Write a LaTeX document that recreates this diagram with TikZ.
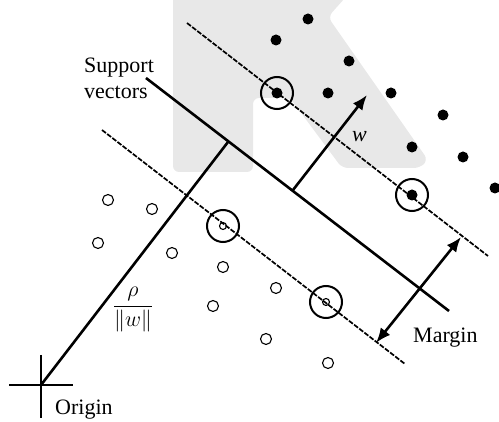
\documentclass[tikz,border=0pt]{standalone}
\usepackage{fix-cm}
\usepackage{fontspec}
\setmainfont{Liberation Serif}
\usetikzlibrary{arrows.meta}
\begin{document}
\begin{tikzpicture}[x=1pt,y=-1pt,font=\fontsize{22}{26}\selectfont,
	plane/.style={line width=2.6pt},
	edge/.style={line width=1.7pt,dash pattern=on 5pt off 1.5pt},
	posdot/.style={circle,fill=black,inner sep=0pt,minimum size=11pt},
	negdot/.style={circle,draw,line width=1.1pt,inner sep=0pt,minimum size=11pt},
	negsv/.style={circle,draw,line width=1.1pt,inner sep=0pt,minimum size=7pt},
	svring/.style={circle,draw,line width=2pt,inner sep=0pt,minimum size=32pt},
	tip/.style={line width=2.6pt,-{Latex[length=15pt,width=12pt]}},
	lbl/.style={inner sep=0pt,anchor=base west}]
	\useasboundingbox (0,0) rectangle (499,422);
	\fill[gray!18,rounded corners=6pt] (173,-20) -- (361,-20) -- (328,17) -- (428,160) -- (420,168)
		-- (342,168) -- (290,98) -- (253,98) -- (253,172) -- (173,172) -- cycle;
	\coordinate (o) at (41,385);
	\coordinate (foot) at (228,142);
	\coordinate (h1) at (146,78);
	\coordinate (h2) at (449,311);
	\coordinate (t1) at (187,23);
	\coordinate (t2) at (488,256);
	\coordinate (b1) at (102,130);
	\coordinate (b2) at (405,364);
	\coordinate (w0) at (293,190);
	\coordinate (w1) at (367,95);
	\coordinate (m0) at (376,343);
	\coordinate (m1) at (461,237);
	\draw[line width=1.3pt] (o) ++(-32,0) -- ++(64,0);
	\draw[line width=1.3pt] (o) ++(0,-30) -- ++(0,63);
	\draw[plane] (h1) -- (h2);
	\draw[plane] (o) -- (foot);
	\draw[edge] (t1) -- (t2);
	\draw[edge] (b1) -- (b2);
	\draw[tip] (w0) -- (w1);
	\draw[line width=2.6pt,{Latex[length=15pt,width=12pt]}-{Latex[length=15pt,width=12pt]}] (m0) -- (m1);
	\node[posdot] (p1) at (308,19) {};
	\node[posdot] (p2) at (276,40) {};
	\node[posdot] (p3) at (349,61) {};
	\node[posdot] (p4) at (328,93) {};
	\node[posdot] (p5) at (391,93) {};
	\node[posdot] (p6) at (443,115) {};
	\node[posdot] (p7) at (412,147) {};
	\node[posdot] (p8) at (463,157) {};
	\node[posdot] (p9) at (495,188) {};
	\node[posdot] (psv1) at (277,93) {};
	\node[posdot] (psv2) at (412,195) {};
	\node[svring] at (psv1) {};
	\node[svring] at (psv2) {};
	\node[negdot] (n1) at (108,200) {};
	\node[negdot] (n2) at (152,209) {};
	\node[negdot] (n3) at (98,243) {};
	\node[negdot] (n4) at (172,253) {};
	\node[negdot] (n5) at (223,267) {};
	\node[negdot] (n6) at (213,306) {};
	\node[negdot] (n7) at (276,288) {};
	\node[negdot] (n8) at (266,339) {};
	\node[negdot] (n9) at (328,363) {};
	\node[negsv] (nsv1) at (223,226) {};
	\node[negsv] (nsv2) at (326,302) {};
	\node[svring] at (nsv1) {};
	\node[svring] at (nsv2) {};
	\node[inner sep=0pt,anchor=west,align=left] (svtext) at (84,78) {Support\\vectors};
	\node[lbl] (origintext) at (55,415) {Origin};
	\node[lbl] (margintext) at (413,343) {Margin};
	\node[lbl] (wtext) at (352,142) {\textit{w}};
	\node[inner sep=0pt] (disttext) at (133,310) {$\displaystyle\frac{\rho}{\|w\|}$};
\end{tikzpicture}
\end{document}
